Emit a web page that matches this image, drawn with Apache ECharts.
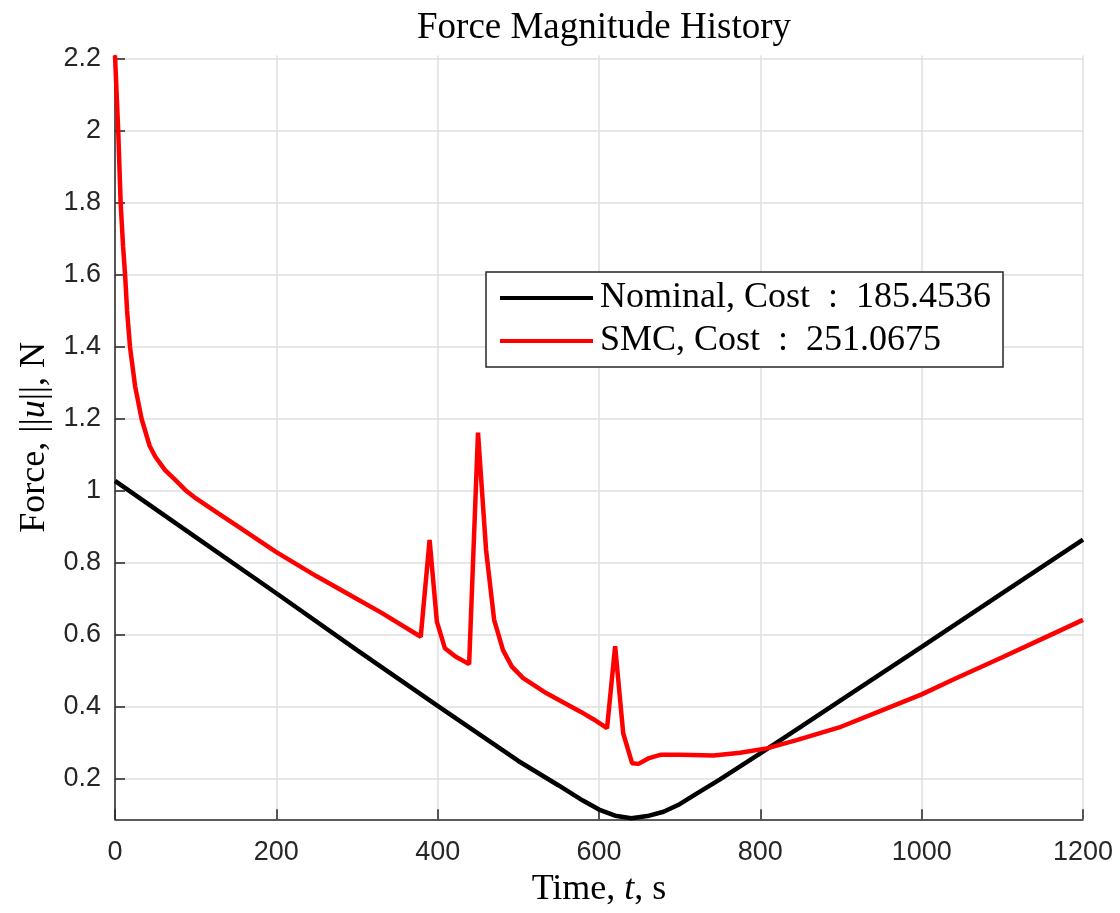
<!DOCTYPE html>
<html>
<head>
<meta charset="utf-8">
<title>Force Magnitude History</title>
<script src="https://cdn.jsdelivr.net/npm/echarts@6/dist/echarts.min.js"></script>
<style>
  html, body { margin: 0; padding: 0; background: #ffffff; }
  #chart { width: 1120px; height: 913px; }
</style>
</head>
<body>
<div id="chart"></div>
<script>
// Nominal control force magnitude over time
const nominalTime  = [0, 100, 200, 300, 400, 500, 550, 580, 600, 620, 640, 660, 680, 700, 720, 750, 800, 850, 900, 1000, 1100, 1200];
const nominalForce = [1.028, 0.872, 0.716, 0.558, 0.403, 0.250, 0.182, 0.140, 0.115, 0.098, 0.091, 0.097, 0.109, 0.130, 0.158, 0.199, 0.271, 0.345, 0.419, 0.567, 0.716, 0.865];

// Sliding-mode control force magnitude over time
const smcTime  = [0, 4, 7, 10, 12.5, 15, 18.6, 25, 33, 43, 50, 62, 75, 87, 100, 128, 150, 200, 250, 300, 330, 379, 390, 399, 409, 422, 439, 450, 460, 470, 481, 492, 506, 535, 577, 593, 610, 620, 630, 641, 649, 661, 676, 700, 742, 775, 808, 845, 900, 950, 1000, 1040, 1100, 1150, 1200];
const smcForce = [2.210, 2.000, 1.800, 1.680, 1.600, 1.500, 1.400, 1.290, 1.200, 1.125, 1.095, 1.058, 1.030, 1.003, 0.980, 0.938, 0.905, 0.830, 0.763, 0.700, 0.662, 0.595, 0.864, 0.637, 0.563, 0.540, 0.519, 1.162, 0.836, 0.642, 0.558, 0.512, 0.480, 0.438, 0.387, 0.366, 0.341, 0.569, 0.327, 0.244, 0.242, 0.257, 0.267, 0.267, 0.265, 0.273, 0.285, 0.308, 0.345, 0.390, 0.435, 0.477, 0.538, 0.590, 0.642];

const seriesNames = ['Nominal, Cost  :  185.4536', 'SMC, Cost  :  251.0675'];

const xTicks = [0, 200, 400, 600, 800, 1000, 1200];
const yTicks = [0.2, 0.4, 0.6, 0.8, 1, 1.2, 1.4, 1.6, 1.8, 2, 2.2];

const pairs = (xs, ys) => xs.map((x, i) => [x, ys[i]]);

const serif = '"Liberation Serif", "DejaVu Serif", serif';
const sans = '"Liberation Sans", Arial, Helvetica, sans-serif';
const axisColor = '#262626';
const gridColor = '#dfdfdf';

const chart = echarts.init(document.getElementById('chart'), null, { renderer: 'canvas' });

chart.setOption({
  animation: false,
  backgroundColor: '#ffffff',
  title: {
    text: 'Force Magnitude History',
    left: 599,
    textAlign: 'center',
    top: 5,
    textStyle: { fontFamily: serif, fontWeight: 'normal', fontSize: 37, color: '#000000' }
  },
  grid: { left: 115, right: 37, top: 55.4, bottom: 93.7, containLabel: false, outerBoundsMode: 'none' },
  legend: {
    orient: 'vertical',
    left: 486,
    top: 272,
    padding: [8, 12, 8, 14],
    itemGap: 7,
    itemWidth: 93,
    itemHeight: 4,
    icon: 'rect',
    backgroundColor: '#ffffff',
    borderColor: axisColor,
    borderWidth: 1.5,
    borderRadius: 0,
    textStyle: { fontFamily: serif, fontSize: 36, color: '#000000', lineHeight: 36, padding: [0, 0, 0, 2] },
    data: seriesNames
  },
  xAxis: {
    type: 'value',
    min: 0,
    max: 1200,
    interval: 200,
    name: 'Time, {i|t}, s',
    nameLocation: 'middle',
    nameGap: 52,
    nameTextStyle: {
      fontFamily: serif, fontSize: 36, color: '#000000',
      rich: { i: { fontFamily: serif, fontStyle: 'italic', fontSize: 36, color: '#000000' } }
    },
    axisLine: { lineStyle: { color: axisColor, width: 1.5 } },
    axisTick: { inside: true, length: 10, lineStyle: { color: axisColor, width: 1.5 } },
    axisLabel: {
      fontFamily: sans, fontSize: 27, color: axisColor, margin: 20,
      showMaxLabel: true, showMinLabel: true,
      formatter: (v) => String(v)
    },
    splitLine: { show: true, lineStyle: { color: gridColor, width: 1.5 } }
  },
  yAxis: {
    type: 'value',
    min: 0.088,
    max: 2.21,
    name: 'Force, ||{i|u}||, N',
    nameLocation: 'middle',
    nameGap: 62,
    nameRotate: 90,
    nameTextStyle: {
      fontFamily: serif, fontSize: 36, color: '#000000',
      rich: { i: { fontFamily: serif, fontStyle: 'italic', fontSize: 36, color: '#000000' } }
    },
    axisLine: { show: true, lineStyle: { color: axisColor, width: 1.5 } },
    axisTick: { show: true, inside: true, length: 10, customValues: yTicks, lineStyle: { color: axisColor, width: 1.5 } },
    axisLabel: { fontFamily: sans, fontSize: 27, color: axisColor, margin: 14, customValues: yTicks },
    splitLine: { show: true, lineStyle: { color: gridColor, width: 1.5 } }
  },
  series: [
    {
      name: seriesNames[0],
      type: 'line',
      data: pairs(nominalTime, nominalForce),
      showSymbol: false,
      smooth: false,
      color: '#000000',
      lineStyle: { color: '#000000', width: 4.5 },
      z: 3
    },
    {
      name: seriesNames[1],
      type: 'line',
      data: pairs(smcTime, smcForce),
      showSymbol: false,
      smooth: false,
      clip: false,
      color: '#ff0000',
      lineStyle: { color: '#ff0000', width: 4.5 },
      z: 4
    }
  ]
});
</script>
</body>
</html>
